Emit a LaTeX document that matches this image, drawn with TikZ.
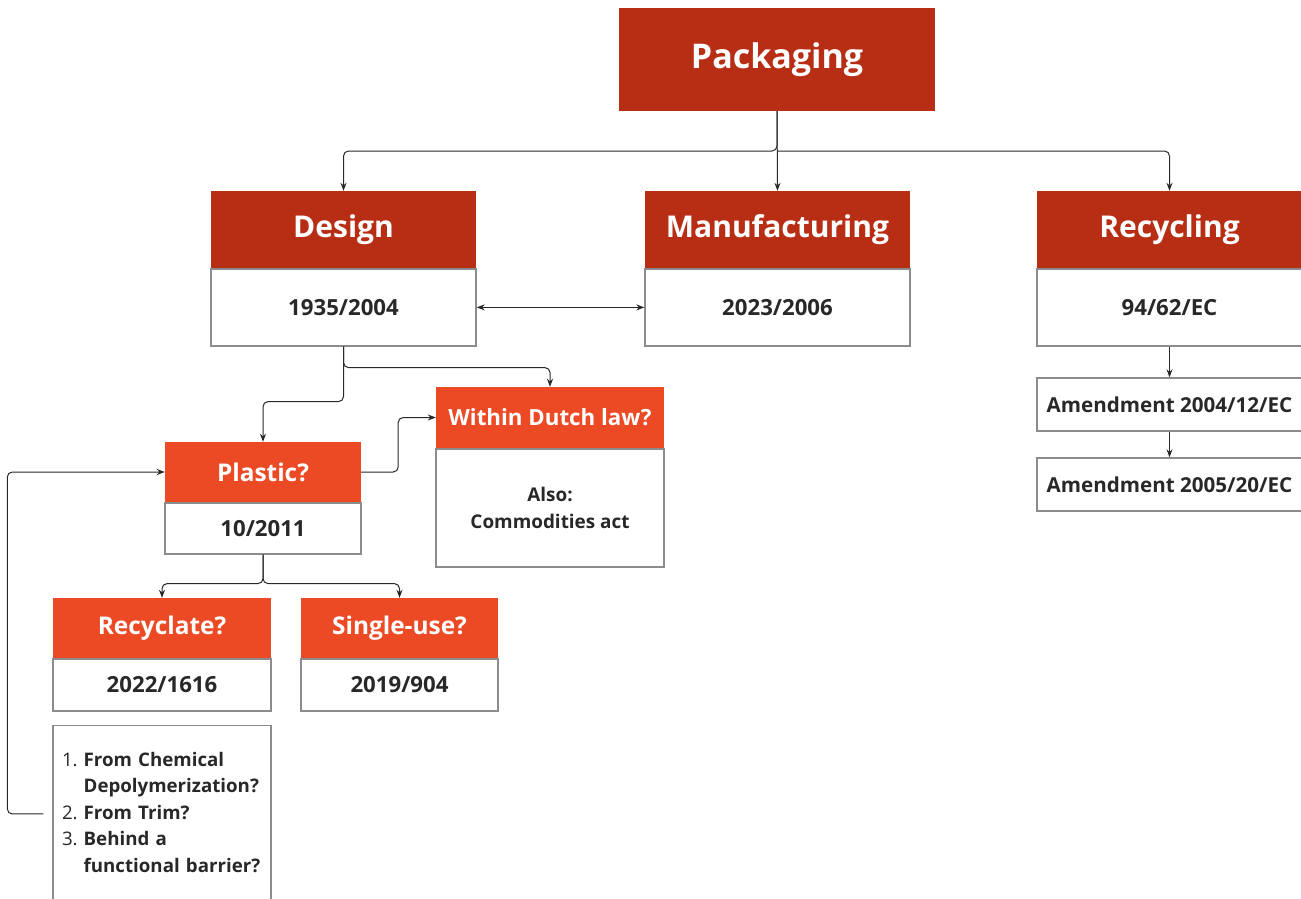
\documentclass[tikz,border=0pt]{standalone}
\usepackage{fontspec}
\setmainfont{Open Sans}
\usetikzlibrary{arrows.meta, positioning}

\definecolor{darkred}{RGB}{183,46,20}
\definecolor{orangered}{RGB}{236,74,37}
\definecolor{boxgray}{RGB}{140,140,140}
\definecolor{ink}{RGB}{40,40,40}

\tikzset{
  head/.style={fill=darkred, text=white, inner sep=0pt, font=\bfseries\fontsize{30}{36}\selectfont},
  subhead/.style={fill=orangered, text=white, inner sep=0pt, minimum height=60pt, font=\bfseries\fontsize{24.4}{29}\selectfont},
  body/.style={draw=boxgray, line width=1.4pt, fill=white, text=ink, inner sep=0pt, align=center, font=\bfseries\fontsize{22.2}{27}\selectfont},
  link/.style={draw=ink, line width=1pt, rounded corners=5pt, -{Stealth[length=8pt,width=6pt]}}
}

\begin{document}
\begin{tikzpicture}[x=1pt, y=-1pt, node distance=0pt]
        \useasboundingbox (0,0) rectangle (1301,899);

        % Nodes
        \node (pack) [head, minimum width=316pt, minimum height=103pt, font=\bfseries\fontsize{34}{40}\selectfont] at (777,59.5) {Packaging};

        \node (design) [head, minimum width=265pt, minimum height=77pt] at (343.5,229.5) {Design};
        \node (designlaw) [body, below=of design, minimum width=265pt, minimum height=77pt] {1935/2004};
        \node (manu) [head, minimum width=265pt, minimum height=77pt] at (777.5,229.5) {Manufacturing};
        \node (manulaw) [body, below=of manu, minimum width=265pt, minimum height=77pt] {2023/2006};
        \node (recyc) [head, minimum width=265pt, minimum height=77pt] at (1169.5,229.5) {Recycling};
        \node (recyclaw) [body, below=of recyc, minimum width=265pt, minimum height=77pt] {94/62/EC};

        \node (amend1) [body, minimum width=265pt, minimum height=53pt, font=\bfseries\fontsize{20.6}{25}\selectfont] at (1169.5,404.5) {Amendment 2004/12/EC};
        \node (amend2) [body, minimum width=265pt, minimum height=53pt, font=\bfseries\fontsize{20.6}{25}\selectfont] at (1169.5,484.5) {Amendment 2005/20/EC};

        \node (dutch) [subhead, minimum width=228pt, minimum height=61pt, font=\bfseries\fontsize{22.3}{27}\selectfont] at (550,417.5) {Within Dutch law?};
        \node (dutchlaw) [body, below=of dutch, minimum width=228pt, minimum height=118pt, font=\bfseries\fontsize{18.9}{27}\selectfont] {Also:\\Commodities act};

        \node (plastic) [subhead, minimum width=196pt] at (263,472) {Plastic?};
        \node (plasticlaw) [body, below=of plastic, minimum width=196pt, minimum height=51pt] {10/2011};

        \node (recyclate) [subhead, minimum width=218pt] at (162,628) {Recyclate?};
        \node (recyclatelaw) [body, below=of recyclate, minimum width=218pt, minimum height=52pt] {2022/1616};
        \node (single) [subhead, minimum width=197pt] at (399.5,628) {Single-use?};
        \node (singlelaw) [body, below=of single, minimum width=197pt, minimum height=52pt] {2019/904};

        \node (checks) [body, anchor=north, minimum width=218pt, text width=200pt, align=left, inner ysep=22pt, font=\fontsize{18.7}{26.5}\selectfont] at (162,725) {%
          \begin{tabular}{@{}r@{\hspace{6pt}}l@{}}
            1. & \textbf{From Chemical}\\
               & \textbf{Depolymerization?}\\
            2. & \textbf{From Trim?}\\
            3. & \textbf{Behind a}\\
               & \textbf{functional barrier?}
          \end{tabular}};

        % Edges
        \coordinate (fork) at (777,151);
        \draw[link] (pack.south) -- (fork) -| (design.north);
        \draw[link] (pack.south) -- (manu.north);
        \draw[link] (fork) -| (recyc.north);

        \draw[link, {Stealth[length=8pt,width=6pt]}-{Stealth[length=8pt,width=6pt]}] (designlaw) -- (manulaw);

        \draw[link] (designlaw.south) -- ++(0,21) -| (dutch.north);
        \draw[link] (designlaw.south) -- ++(0,55) -| (plastic.north);
        \draw[link] (plastic.east) -- ++(37,0) |- (dutch.west);

        \draw[link] (plasticlaw.south) -- ++(0,29) -| (recyclate.north);
        \draw[link] (plasticlaw.south) -- ++(0,29) -| (single.north);

        \draw[link] ([xshift=-9pt]checks.west) -- ++(-36,0) |- (plastic.west);

        \draw[link] (recyclaw.south) -- (amend1.north);
        \draw[link] (amend1.south) -- (amend2.north);
    \end{tikzpicture}
\end{document}
